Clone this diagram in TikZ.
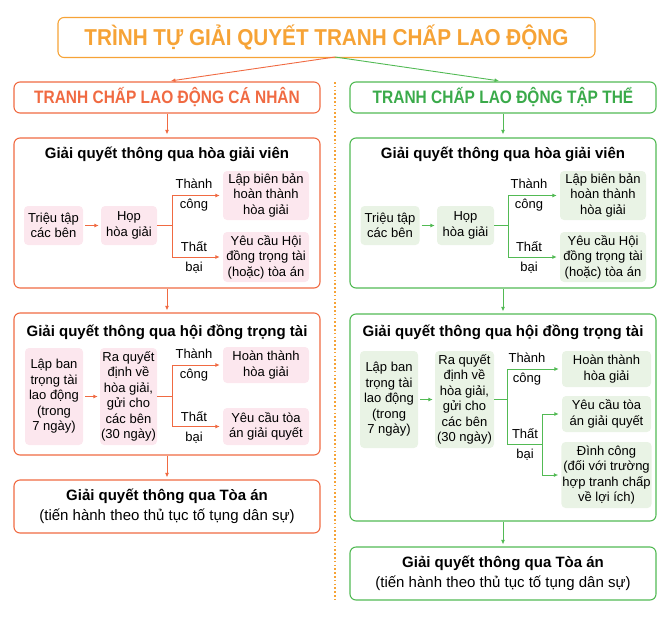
\documentclass[tikz,border=0pt]{standalone}
\usepackage{fontspec}
\setmainfont{Liberation Sans}
\newfontfamily\condfont{Liberation Sans}[FakeStretch=0.9]
\newfontfamily\condnho{Liberation Sans}[FakeStretch=0.86]
\usetikzlibrary{arrows.meta}

\definecolor{tieude}{RGB}{246,163,54}
\definecolor{canhan}{RGB}{240,106,66}
\definecolor{tapthe}{RGB}{82,186,84}
\definecolor{chutt}{RGB}{58,170,74}
\definecolor{hongnhat}{RGB}{252,231,238}
\definecolor{xanhnhat}{RGB}{233,243,229}

\begin{document}
\begin{tikzpicture}[x=1pt, y=-1pt,
    khung/.style={draw, rounded corners=6pt, line width=1.1pt, minimum width=306pt, inner sep=0pt},
    onho/.style={rounded corners=4pt, inner sep=1pt, align=center, font=\fontsize{13}{15.5}\selectfont},
    nhan/.style={align=center, inner sep=0pt, font=\fontsize{13}{20}\selectfont},
    tua/.style={inner sep=0pt, font=\bfseries\fontsize{15}{18}\selectfont},
    mui/.style={-{Latex[length=4.5pt,width=4pt]}, line width=0.9pt}]
    \useasboundingbox (0,0) rectangle (671,629);

    % tieu de va hai nhanh
    \node[khung, draw=tieude, minimum width=537pt, minimum height=40pt, text=tieude,
          font=\condfont\bfseries\fontsize{23}{23}\selectfont] (tieude) at (326.5,37.5)
          {TRÌNH TỰ GIẢI QUYẾT TRANH CHẤP LAO ĐỘNG};
    \node[khung, draw=canhan, minimum height=31pt, text=canhan,
          font=\condnho\bfseries\fontsize{18}{18}\selectfont] (cn) at (167,97.5)
          {TRANH CHẤP LAO ĐỘNG CÁ NHÂN};
    \node[khung, draw=tapthe, minimum height=31pt, text=chutt,
          font=\condnho\bfseries\fontsize{18}{18}\selectfont] (tt) at (503,97.5)
          {TRANH CHẤP LAO ĐỘNG TẬP THỂ};
    \coordinate (goc) at (335,57);
    \draw[mui, canhan, shorten >=4pt] (goc) -- (cn.north);
    \draw[mui, tapthe, shorten >=4pt] (goc) -- (tt.north);

    \coordinate (chia_tren) at (335,82);
    \coordinate (chia_duoi) at (335,600);
    \draw[tieude, line width=1.6pt, dash pattern=on 1.6pt off 2.2pt] (chia_tren) -- (chia_duoi);

    % ben trai: ca nhan
    \node[khung, draw=canhan, minimum height=150pt] (cn_hgv) at (167,213) {};
    \node[tua] (cn_hgv_tua) at (167,154) {Giải quyết thông qua hòa giải viên};
    \node[onho, fill=hongnhat, minimum width=59pt, minimum height=39pt] (cn_trieutap) at (53.5,225.5) {Triệu tập\\các bên};
    \node[onho, fill=hongnhat, minimum width=56pt, minimum height=39pt] (cn_hop) at (129,225.5) {Họp\\hòa giải};
    \node[onho, fill=hongnhat, minimum width=86pt, minimum height=49pt] (cn_lapbb) at (266,195.5) {Lập biên bản\\hoàn thành\\hòa giải};
    \node[onho, fill=hongnhat, minimum width=86pt, minimum height=50pt] (cn_yeucau1) at (266,257) {Yêu cầu Hội\\đồng trọng tài\\(hoặc) tòa án};
    \node[nhan] (cn_tc1) at (194,195) {Thành\\công};
    \node[nhan] (cn_tb1) at (194,257) {Thất\\bại};
    \coordinate (cn_re1) at (172,225.5);
    \draw[mui, canhan, shorten >=2pt, shorten <=2pt] (cn_trieutap) -- (cn_hop);
    \draw[canhan, line width=0.9pt] (cn_hop.east) -- (cn_re1);
    \draw[mui, canhan, shorten >=3pt] (cn_re1) |- (cn_lapbb.west);
    \draw[mui, canhan, shorten >=3pt] (cn_re1) |- (cn_yeucau1.west);

    \node[khung, draw=canhan, minimum height=142pt] (cn_hdtt) at (167,384) {};
    \node[tua] (cn_hdtt_tua) at (167,332) {Giải quyết thông qua hội đồng trọng tài};
    \node[onho, fill=hongnhat, minimum width=58pt, minimum height=97pt] (cn_lapban) at (54,396.5) {Lập ban\\trọng tài\\lao động\\(trong\\7 ngày)};
    \node[onho, fill=hongnhat, minimum width=57pt, minimum height=97pt] (cn_raqd) at (128.5,396.5) {Ra quyết\\định về\\hòa giải,\\gửi cho\\các bên\\(30 ngày)};
    \node[onho, fill=hongnhat, minimum width=86pt, minimum height=36pt] (cn_hoanthanh) at (266,365) {Hoàn thành\\hòa giải};
    \node[onho, fill=hongnhat, minimum width=86pt, minimum height=37pt] (cn_yeucau2) at (266,426.5) {Yêu cầu tòa\\án giải quyết};
    \node[nhan] (cn_tc2) at (194,365) {Thành\\công};
    \node[nhan] (cn_tb2) at (194,427) {Thất\\bại};
    \coordinate (cn_re2) at (172,396.5);
    \draw[mui, canhan, shorten >=2pt, shorten <=2pt] (cn_lapban) -- (cn_raqd);
    \draw[canhan, line width=0.9pt] (cn_raqd.east) -- (cn_re2);
    \draw[mui, canhan, shorten >=3pt] (cn_re2) |- (cn_hoanthanh.west);
    \draw[mui, canhan, shorten >=3pt] (cn_re2) |- (cn_yeucau2.west);

    \node[khung, draw=canhan, minimum height=53pt, align=center,
          font=\fontsize{15}{20}\selectfont] (cn_toa) at (167,506.5)
          {\textbf{Giải quyết thông qua Tòa án}\\(tiến hành theo thủ tục tố tụng dân sự)};

    \draw[mui, canhan, shorten >=3pt] (cn.south) -- (cn_hgv.north);
    \draw[mui, canhan, shorten >=2pt] (cn_hgv.south) -- (cn_hdtt.north);
    \draw[mui, canhan, shorten >=2pt] (cn_hdtt.south) -- (cn_toa.north);

    % ben phai: tap the
    \node[khung, draw=tapthe, minimum height=150pt] (tt_hgv) at (503,213) {};
    \node[tua] (tt_hgv_tua) at (503,154) {Giải quyết thông qua hòa giải viên};
    \node[onho, fill=xanhnhat, minimum width=59pt, minimum height=39pt] (tt_trieutap) at (390,225.5) {Triệu tập\\các bên};
    \node[onho, fill=xanhnhat, minimum width=57pt, minimum height=39pt] (tt_hop) at (465.5,225.5) {Họp\\hòa giải};
    \node[onho, fill=xanhnhat, minimum width=86pt, minimum height=49pt] (tt_lapbb) at (603,195.5) {Lập biên bản\\hoàn thành\\hòa giải};
    \node[onho, fill=xanhnhat, minimum width=86pt, minimum height=50pt] (tt_yeucau1) at (603,257) {Yêu cầu Hội\\đồng trọng tài\\(hoặc) tòa án};
    \node[nhan] (tt_tc1) at (529,195) {Thành\\công};
    \node[nhan] (tt_tb1) at (529,257) {Thất\\bại};
    \coordinate (tt_re1) at (508,225.5);
    \draw[mui, tapthe, shorten >=2pt, shorten <=2pt] (tt_trieutap) -- (tt_hop);
    \draw[tapthe, line width=0.9pt] (tt_hop.east) -- (tt_re1);
    \draw[mui, tapthe, shorten >=3pt] (tt_re1) |- (tt_lapbb.west);
    \draw[mui, tapthe, shorten >=3pt] (tt_re1) |- (tt_yeucau1.west);

    \node[khung, draw=tapthe, minimum height=207pt] (tt_hdtt) at (503,417.5) {};
    \node[tua] (tt_hdtt_tua) at (503,332) {Giải quyết thông qua hội đồng trọng tài};
    \node[onho, fill=xanhnhat, minimum width=58pt, minimum height=97pt] (tt_lapban) at (389,399.5) {Lập ban\\trọng tài\\lao động\\(trong\\7 ngày)};
    \node[onho, fill=xanhnhat, minimum width=59pt, minimum height=97pt] (tt_raqd) at (464.5,399.5) {Ra quyết\\định về\\hòa giải,\\gửi cho\\các bên\\(30 ngày)};
    \node[onho, fill=xanhnhat, minimum width=89pt, minimum height=36pt] (tt_hoanthanh) at (606.5,369) {Hoàn thành\\hòa giải};
    \node[onho, fill=xanhnhat, minimum width=89pt, minimum height=36pt] (tt_yeucau2) at (606.5,414) {Yêu cầu tòa\\án giải quyết};
    \node[onho, fill=xanhnhat, minimum width=89pt, minimum height=66pt] (tt_dinhcong) at (606.5,475) {Đình công\\(đối với trường\\hợp tranh chấp\\về lợi ích)};
    \node[nhan] (tt_tc2) at (527,369) {Thành\\công};
    \node[nhan] (tt_tb2) at (525,444) {Thất\\bại};
    \coordinate (tt_re2) at (507,399.5);
    \coordinate (tt_re3) at (542,444);
    \draw[mui, tapthe, shorten >=2pt, shorten <=2pt] (tt_lapban) -- (tt_raqd);
    \draw[tapthe, line width=0.9pt] (tt_raqd.east) -- (tt_re2);
    \draw[mui, tapthe, shorten >=3pt] (tt_re2) |- (tt_hoanthanh.west);
    \draw[tapthe, line width=0.9pt] (tt_re2) |- (tt_re3);
    \draw[mui, tapthe, shorten >=3pt] (tt_re3) |- (tt_yeucau2.west);
    \draw[mui, tapthe, shorten >=3pt] (tt_re3) |- (tt_dinhcong.west);

    \node[khung, draw=tapthe, minimum height=53pt, align=center,
          font=\fontsize{15}{20}\selectfont] (tt_toa) at (503,573.5)
          {\textbf{Giải quyết thông qua Tòa án}\\(tiến hành theo thủ tục tố tụng dân sự)};

    \draw[mui, tapthe, shorten >=3pt] (tt.south) -- (tt_hgv.north);
    \draw[mui, tapthe, shorten >=2pt] (tt_hgv.south) -- (tt_hdtt.north);
    \draw[mui, tapthe, shorten >=2pt] (tt_hdtt.south) -- (tt_toa.north);
\end{tikzpicture}
\end{document}
